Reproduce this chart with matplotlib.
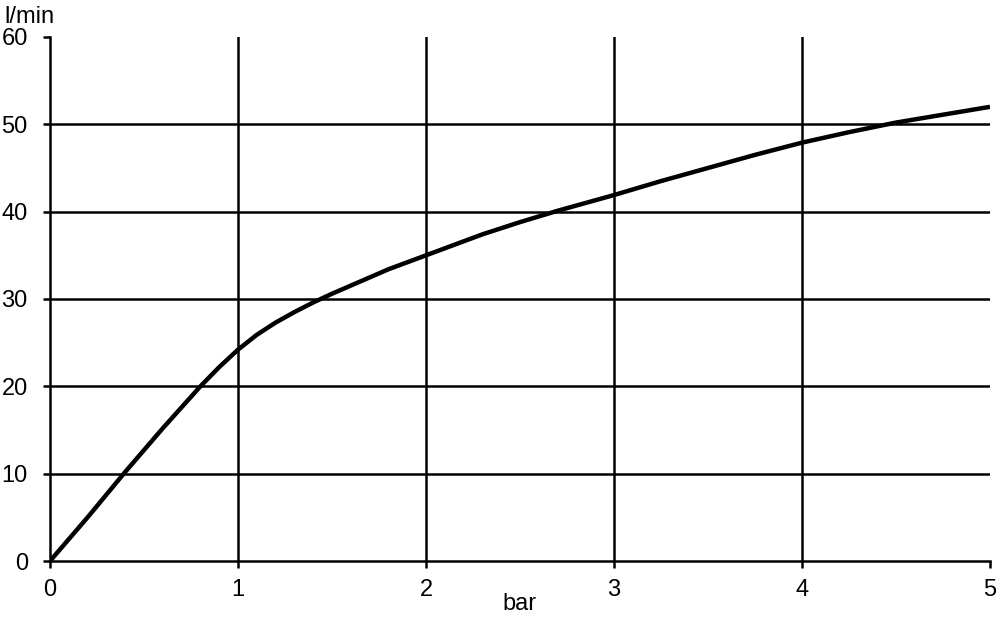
import matplotlib
matplotlib.use("Agg")
import matplotlib.pyplot as plt

pressure_bar = [0, 0.2, 0.4, 0.6, 0.8, 0.9, 1.0, 1.1, 1.2, 1.3, 1.4, 1.5, 1.65, 1.8, 2.0,
                2.15, 2.3, 2.5, 2.7, 2.85, 3.0, 3.25, 3.5, 3.75, 4.0, 4.25, 4.5, 4.75, 5.0]
flow_lpm = [0, 5.0, 10.2, 15.2, 20.0, 22.2, 24.2, 25.9, 27.3, 28.5, 29.6, 30.6, 32.0, 33.4, 35.0,
            36.2, 37.4, 38.8, 40.1, 41.0, 41.9, 43.5, 45.0, 46.5, 47.9, 49.1, 50.2, 51.1, 52.0]

x_ticks = [0, 1, 2, 3, 4, 5]
y_ticks = [0, 10, 20, 30, 40, 50, 60]
x_label = "bar"
y_label = "l/min"

plt.rcParams['font.family'] = ['Liberation Sans', 'DejaVu Sans']

fig = plt.figure(figsize=(10, 6.18), dpi=100)
ax = fig.add_axes([0.05, 0.0922, 0.94, 0.848])

for yv in y_ticks[1:-1]:
    ax.axhline(yv, color='black', lw=1.8, zorder=1)
for xv in x_ticks[1:-1]:
    ax.axvline(xv, color='black', lw=1.8, zorder=1)

ax.plot(pressure_bar, flow_lpm, color='black', lw=3.2, solid_capstyle='butt',
        solid_joinstyle='round', zorder=3)

ax.set_xlim(0, 5)
ax.set_ylim(0, 60)
ax.set_xticks(x_ticks)
ax.set_yticks(y_ticks)
ax.set_xticklabels([str(v) for v in x_ticks])
ax.set_yticklabels([str(v) for v in y_ticks])

for s in ['top', 'right']:
    ax.spines[s].set_visible(False)
for s in ['left', 'bottom']:
    ax.spines[s].set_linewidth(1.8)
    ax.spines[s].set_color('black')

ax.tick_params(axis='both', direction='out', length=5, width=1.8, colors='black', labelsize=17)
ax.tick_params(axis='x', pad=8)
ax.tick_params(axis='y', pad=11)

ax.set_xlabel(x_label, fontsize=17, labelpad=-6)
fig.text(0.004, 1 - 17 / 618, y_label, fontsize=17, ha='left', va='center')

fig.savefig("out.png", dpi=100)
